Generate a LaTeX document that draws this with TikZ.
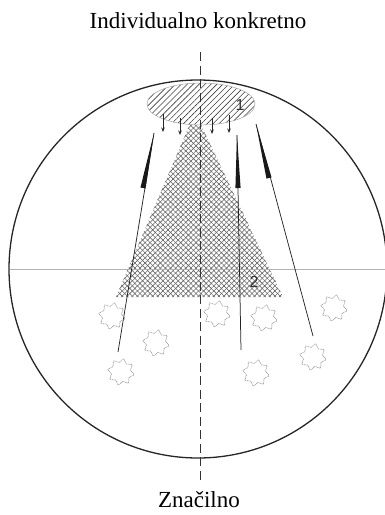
\documentclass[tikz,border=0pt]{standalone}
\usepackage{fontspec}
\setmainfont{Liberation Serif}
\newfontfamily\numfont{Liberation Sans}
\usetikzlibrary{patterns.meta,calc,arrows.meta}
\tikzset{
  lbl/.style={font=\fontsize{23}{27}\selectfont, inner sep=0pt, anchor=base},
  num/.style={font=\numfont\fontsize{16}{18}\selectfont, inner sep=0pt, text=black!80},
  smallarrow/.style={-{Stealth[length=4.5pt,width=3.5pt]}, line width=0.7pt, black!85},
  thinline/.style={line width=0.75pt, black!85},
  gearline/.style={gray!80, line width=0.6pt, dash pattern=on 1pt off 0.6pt},
}
\newcommand{\mygear}[2]{%
  \draw[gearline] plot[smooth cycle, samples=16, domain=0:337.5, variable=\t]
    ({#1+(11.5+1.8*cos(8*\t))*cos(\t+11.25)},{#2+(11.5+1.8*cos(8*\t))*sin(\t+11.25)});
}
\newcommand{\bigarrow}[3]{%
  % #1 tip, #2 base of thick part, #3 tail
  \draw[thinline] (#3) -- (#1);
  \fill[black!90] (#1) -- ($(#2)!2.6pt!90:(#1)$) -- ($(#2)!2.6pt!-90:(#1)$) -- cycle;
}
\begin{document}
\begin{tikzpicture}[x=1pt,y=-1pt]
\useasboundingbox (0,0) rectangle (385,515);
% texts
\node[lbl] (top) at (198,28) {Individualno konkretno};
\node[lbl] (bot) at (199,507) {Značilno};
% triangle crosshatch
\coordinate (tA) at (195,112);
\coordinate (tL) at (116,297);
\coordinate (tR) at (283,297);
\fill[pattern={Lines[angle=45,distance=3.6pt,line width=0.6pt]}, pattern color=black!60] (tL) -- (tA) -- (tR) -- cycle;
\fill[pattern={Lines[angle=-45,distance=3.6pt,line width=0.6pt]}, pattern color=black!60] (tL) -- (tA) -- (tR) -- cycle;
% horizontal line
\coordinate (hL) at (10,269);
\coordinate (hR) at (385,269);
\draw[gray!60, line width=0.6pt] (hL) -- (hR);
% circle
\node[circle, draw=black!85, line width=1.3pt, minimum size=378pt, inner sep=0pt] (c) at (198,269) {};
% ellipse
\fill[white] (201,104) ellipse [x radius=54, y radius=21];
\fill[pattern={Lines[angle=45,distance=4.2pt,line width=0.6pt]}, pattern color=black!75] (201,104) ellipse [x radius=54, y radius=21];
\draw[gray!70, line width=0.5pt] (201,104) ellipse [x radius=54, y radius=21];
\node[num] (n1) at (240,105) {1};
\node[num] (n2) at (254,282) {2};
% dashed vertical
\coordinate (vT) at (200,52);
\coordinate (vB) at (200,480);
\draw[black!80, line width=0.8pt, dash pattern=on 9pt off 4.5pt] (vT) -- (vB);
% small arrows
\foreach \x/\a/\b [count=\i] in {163/114/132, 180/118/135, 212/118/134, 229/115/133}{
  \coordinate (s\i a) at (\x,\a);
  \coordinate (s\i b) at (\x,\b);
  \draw[smallarrow] (s\i a) -- (s\i b);
}
% big arrows
\coordinate (a1t) at (154,133); \coordinate (a1b) at (143,188); \coordinate (a1e) at (118,352);
\coordinate (a2t) at (237,135); \coordinate (a2b) at (238,188); \coordinate (a2e) at (241,350);
\coordinate (a3t) at (256,124); \coordinate (a3b) at (269,178); \coordinate (a3e) at (313,336);
\bigarrow{a1t}{a1b}{a1e}
\bigarrow{a2t}{a2b}{a2e}
\bigarrow{a3t}{a3b}{a3e}
% gears
\mygear{112}{316}
\mygear{156}{343}
\mygear{121}{372}
\mygear{217}{314}
\mygear{264}{318}
\mygear{334}{308}
\mygear{313}{357}
\mygear{256}{373}
\end{tikzpicture}
\end{document}
